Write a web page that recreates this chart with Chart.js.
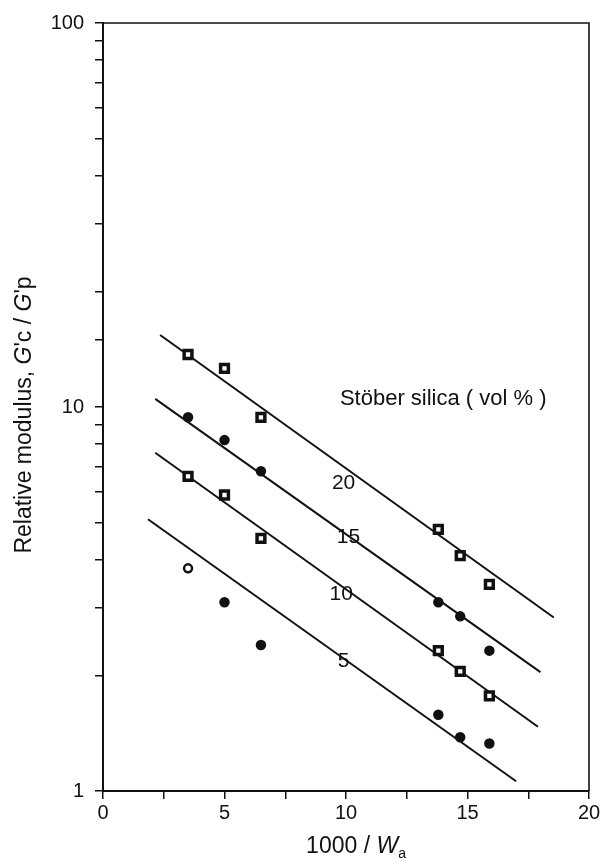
<!DOCTYPE html>
<html><head><meta charset="utf-8">
<script src="https://cdn.jsdelivr.net/npm/chart.js@4.4.1/dist/chart.umd.min.js"></script>
<style>html,body{margin:0;padding:0;background:#fff}</style>
</head><body>
<canvas id="c" width="606" height="866" style="display:block;width:606px;height:866px"></canvas>
<script>
// ---- data ----
const xTickLabels = [0, 5, 10, 15, 20];
const yTickLabels = [1, 10, 100];
const seriesNames = ['20', '15', '10', '5'];
const xData = [3.5, 5.0, 6.5, 13.8, 14.7, 15.9];
const vol20 = [13.7, 12.6, 9.4, 4.8, 4.1, 3.45];
const vol15 = [9.4, 8.2, 6.8, 3.1, 2.85, 2.32];
const vol10 = [6.6, 5.9, 4.55, 2.32, 2.05, 1.77];
const vol5  = [3.8, 3.1, 2.4, 1.58, 1.38, 1.33];
const fitX20 = [2.35, 18.55], fit20 = [15.4, 2.83];
const fitX15 = [2.15, 18.0],  fit15 = [10.5, 2.04];
const fitX10 = [2.15, 17.9],  fit10 = [7.6, 1.47];
const fitX5  = [1.85, 17.0],  fit5  = [5.1, 1.06];
const labelX = [9.9, 10.1, 9.8, 9.9];
const labelY = [6.35, 4.57, 3.25, 2.18];
const legendTitle = 'Stöber silica ( vol % )';
const legendAt = [14.0, 10.5];

const INK = '#111';
const FONT = '"Liberation Sans", Arial, Helvetica, sans-serif';

function pts(xs, ys) { return xs.map((x, i) => ({ x: x, y: ys[i] })); }

const squareStyle = { pointStyle: 'rect', pointRadius: 5.5, pointBorderWidth: 3.5, pointBackgroundColor: '#fff', pointBorderColor: INK };
const dotStyle = { pointStyle: 'circle', pointRadius: 4, pointBorderWidth: 2.5, pointBackgroundColor: INK, pointBorderColor: INK };

const datasets = [
  Object.assign({ label: seriesNames[0] + ' pts', data: pts(xData, vol20), showLine: false }, squareStyle),
  Object.assign({ label: seriesNames[1] + ' pts', data: pts(xData, vol15), showLine: false }, dotStyle),
  Object.assign({ label: seriesNames[2] + ' pts', data: pts(xData, vol10), showLine: false }, squareStyle),
  Object.assign({ label: seriesNames[3] + ' pts', data: pts(xData, vol5), showLine: false }, dotStyle,
    { pointBackgroundColor: vol5.map((v, i) => i === 0 ? '#fff' : INK) }),
];
[[fitX20, fit20], [fitX15, fit15], [fitX10, fit10], [fitX5, fit5]].forEach((f, i) => {
  datasets.push({ label: seriesNames[i] + ' fit', data: pts(f[0], f[1]), showLine: true,
    borderColor: INK, borderWidth: 2, pointRadius: 0, fill: false });
});

function drawSegments(ctx, segs, x, y, size, align) {
  // segs: [text, style] ; style: 'n' normal, 'i' italic, 's' subscript
  const fontOf = s => (s === 'i' ? 'italic ' : '') + (s === 's' ? Math.round(size * 0.6) : size) + 'px ' + FONT;
  let total = 0;
  segs.forEach(([t, s]) => { ctx.font = fontOf(s); total += ctx.measureText(t).width; });
  let cx = align === 'center' ? x - total / 2 : x;
  segs.forEach(([t, s]) => {
    ctx.font = fontOf(s);
    ctx.fillText(t, cx, s === 's' ? y + 5 : y);
    cx += ctx.measureText(t).width;
  });
}

const decor = {
  id: 'decor',
  afterDraw(chart) {
    const { ctx, chartArea: a, scales: { x, y } } = chart;
    ctx.save();
    ctx.strokeStyle = INK;
    ctx.lineWidth = 1.6;
    ctx.beginPath();
    ctx.moveTo(a.left, a.top); ctx.lineTo(a.right, a.top); ctx.lineTo(a.right, a.bottom);
    ctx.stroke();
    ctx.fillStyle = INK;
    ctx.textBaseline = 'middle';
    ctx.textAlign = 'center';
    ctx.font = '21px ' + FONT;
    seriesNames.forEach((n, i) => ctx.fillText(n, x.getPixelForValue(labelX[i]), y.getPixelForValue(labelY[i])));
    ctx.font = '22px ' + FONT;
    ctx.fillText(legendTitle, x.getPixelForValue(legendAt[0]), y.getPixelForValue(legendAt[1]));
    ctx.textAlign = 'left';
    ctx.textBaseline = 'alphabetic';
    drawSegments(ctx, [['1000 / ', 'n'], ['W', 'i'], ['a', 's']], 356, 853, 23, 'center');
    ctx.translate(31, 415);
    ctx.rotate(-Math.PI / 2);
    drawSegments(ctx, [['Relative modulus, ', 'n'], ['G', 'i'], ["'c / ", 'n'], ['G', 'i'], ["'p", 'n']], 0, 0, 23, 'center');
    ctx.restore();
  }
};

new Chart(document.getElementById('c'), {
  type: 'scatter',
  data: { datasets: datasets },
  options: {
    responsive: false,
    animation: false,
    devicePixelRatio: 1,
    layout: { padding: { top: 20, right: 17, bottom: 0, left: 0 } },
    plugins: { legend: { display: false }, tooltip: { enabled: false } },
    scales: {
      x: {
        type: 'linear', min: 0, max: 20,
        afterFit(s) { s.height = 75; },
        ticks: { stepSize: 2.5, autoSkip: false, maxRotation: 0, color: INK, padding: 2,
          font: { family: FONT, size: 20 },
          callback: v => xTickLabels.includes(v) ? String(v) : '' },
        grid: { drawOnChartArea: false, drawTicks: true, tickLength: 8, color: INK, lineWidth: 1.5 },
        border: { color: INK, width: 2 }
      },
      y: {
        type: 'logarithmic', min: 1, max: 100,
        afterFit(s) { s.width = 103; },
        ticks: { autoSkip: false, color: INK, padding: 11,
          font: { family: FONT, size: 20 },
          callback: v => yTickLabels.includes(v) ? String(v) : '' },
        grid: { drawOnChartArea: false, drawTicks: true, tickLength: 8, color: INK, lineWidth: 1.5 },
        border: { color: INK, width: 2 }
      }
    }
  },
  plugins: [decor]
});
</script>
</body></html>
